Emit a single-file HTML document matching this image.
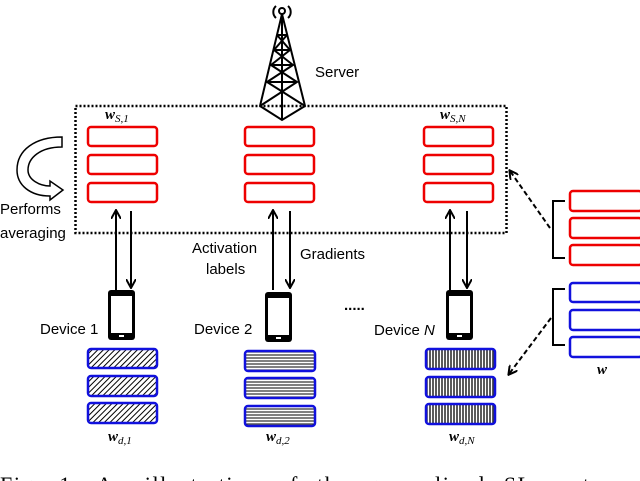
<!DOCTYPE html>
<html><head><style>body{margin:0;background:#fff}svg{display:block}</style></head><body>
<svg width="640" height="481" viewBox="0 0 640 481" xmlns="http://www.w3.org/2000/svg" font-family="Liberation Sans, sans-serif">
<defs>
<marker id="ah" markerWidth="10" markerHeight="10" refX="8" refY="5" orient="auto" markerUnits="userSpaceOnUse"><path d="M0,0 L9,5 L0,10" fill="none" stroke="#000" stroke-width="2"/></marker>
<pattern id="p1" width="4" height="4" patternUnits="userSpaceOnUse" patternTransform="rotate(45)"><rect width="4" height="4" fill="#fff"/><line x1="0" y1="0" x2="0" y2="4" stroke="#000" stroke-width="2"/></pattern>
<pattern id="p2" width="4" height="3" patternUnits="userSpaceOnUse"><rect width="4" height="3" fill="#fff"/><line x1="0" y1="1" x2="4" y2="1" stroke="#000" stroke-width="1"/></pattern>
<pattern id="p3" width="3" height="4" patternUnits="userSpaceOnUse"><rect width="3" height="4" fill="#fff"/><line x1="1" y1="0" x2="1" y2="4" stroke="#000" stroke-width="1.3"/></pattern>
</defs>
<g stroke="#000" stroke-width="2" fill="none">
<path d="M276,6 a8,8 0 0 0 0,12 M288,6 a8,8 0 0 1 0,12"/>
<circle cx="282" cy="11" r="3"/>
<path d="M282,14 L260,106 L282,120 L305,106 Z"/>
<path d="M282,14 L282,120"/>
<path d="M277,35 L287,35 M274,50 L290,50 M271,65 L293,65 M267,82 L297,82 M277,35 L290,50 L271,65 L297,82 L260,106 M287,35 L274,50 L293,65 L267,82 L305,106"/>
</g>
<text x="315" y="77" font-size="15">Server</text>
<rect x="75.5" y="106" width="431" height="127" fill="none" stroke="#000" stroke-width="2.5" stroke-dasharray="2,2"/>
<g fill="none" stroke="#e00" stroke-width="2.5">
<rect x="88" y="127" width="69" height="19" rx="3"/><rect x="88" y="155" width="69" height="19" rx="3"/><rect x="88" y="183" width="69" height="19" rx="3"/>
<rect x="245" y="127" width="69" height="19" rx="3"/><rect x="245" y="155" width="69" height="19" rx="3"/><rect x="245" y="183" width="69" height="19" rx="3"/>
<rect x="424" y="127" width="69" height="19" rx="3"/><rect x="424" y="155" width="69" height="19" rx="3"/><rect x="424" y="183" width="69" height="19" rx="3"/>
<rect x="570" y="191" width="72" height="20" rx="3"/><rect x="570" y="218" width="72" height="20" rx="3"/><rect x="570" y="245" width="72" height="20" rx="3"/>
</g>
<g font-family="Liberation Serif, serif" font-weight="bold" font-style="italic">
<text x="105" y="119" font-size="15">w<tspan font-size="11" font-weight="normal" dy="3">S,1</tspan></text>
<text x="440" y="119" font-size="15">w<tspan font-size="11" font-weight="normal" dy="3">S,N</tspan></text>
<text x="108" y="441" font-size="15">w<tspan font-size="11" font-weight="normal" dy="3">d,1</tspan></text>
<text x="266" y="441" font-size="15">w<tspan font-size="11" font-weight="normal" dy="3">d,2</tspan></text>
<text x="449" y="441" font-size="15">w<tspan font-size="11" font-weight="normal" dy="3">d,N</tspan></text>
<text x="597" y="374" font-size="15">w</text>
</g>
<path d="M62,137 L62,147 C40,147 28,158 28,170 C28,180 40,186 50,186 L50,181 L63,190 L50,200 L50,196 C30,196 17,185 17,170 C17,150 35,137 62,137 Z" fill="#fff" stroke="#000" stroke-width="1.5"/>
<text x="0" y="214" font-size="15">Performs</text>
<text x="0" y="238" font-size="15">averaging</text>
<g stroke="#000" stroke-width="2" marker-end="url(#ah)">
<line x1="116" y1="290" x2="116" y2="211"/><line x1="131" y1="211" x2="131" y2="287"/>
<line x1="273" y1="290" x2="273" y2="211"/><line x1="290" y1="211" x2="290" y2="287"/>
<line x1="450" y1="290" x2="450" y2="211"/><line x1="467" y1="211" x2="467" y2="287"/>
</g>
<text x="192" y="253" font-size="15">Activation</text>
<text x="206" y="274" font-size="15">labels</text>
<text x="300" y="259" font-size="15">Gradients</text>
<g>
<rect x="108" y="290" width="27" height="50" rx="3" fill="#000"/><rect x="111" y="296" width="21" height="37" fill="#fff"/><rect x="119" y="335" width="5" height="2" fill="#fff"/>
<rect x="265" y="292" width="27" height="50" rx="3" fill="#000"/><rect x="268" y="298" width="21" height="37" fill="#fff"/><rect x="276" y="337" width="5" height="2" fill="#fff"/>
<rect x="446" y="290" width="27" height="50" rx="3" fill="#000"/><rect x="449" y="296" width="21" height="37" fill="#fff"/><rect x="457" y="335" width="5" height="2" fill="#fff"/>
</g>
<text x="40" y="334" font-size="15">Device 1</text>
<text x="194" y="334" font-size="15">Device 2</text>
<text x="374" y="335" font-size="15">Device <tspan font-style="italic">N</tspan></text>
<text x="344" y="310" font-size="15" font-weight="bold">.....</text>
<g stroke="#11d" stroke-width="2.5">
<rect x="88" y="349" width="69" height="19" rx="3" fill="url(#p1)"/><rect x="88" y="376" width="69" height="20" rx="3" fill="url(#p1)"/><rect x="88" y="403" width="69" height="20" rx="3" fill="url(#p1)"/>
<rect x="245" y="351" width="70" height="20" rx="3" fill="url(#p2)"/><rect x="245" y="378" width="70" height="20" rx="3" fill="url(#p2)"/><rect x="245" y="406" width="70" height="20" rx="3" fill="url(#p2)"/>
<rect x="426" y="349" width="69" height="20" rx="3" fill="url(#p3)"/><rect x="426" y="377" width="69" height="20" rx="3" fill="url(#p3)"/><rect x="426" y="404" width="69" height="20" rx="3" fill="url(#p3)"/>
<rect x="570" y="283" width="72" height="19" rx="3" fill="none"/><rect x="570" y="310" width="72" height="20" rx="3" fill="none"/><rect x="570" y="337" width="72" height="20" rx="3" fill="none"/>
</g>
<g fill="none" stroke="#000" stroke-width="2">
<path d="M565,201 L553,201 L553,258 L565,258"/>
<path d="M565,289 L553,289 L553,345 L565,345"/>
</g>
<g stroke="#000" stroke-width="2" stroke-dasharray="5,3" marker-end="url(#ah)">
<line x1="550" y1="228" x2="510" y2="171"/>
<line x1="551" y1="318" x2="509" y2="374"/>
</g>
<text x="0" y="492" font-size="22" font-family="Liberation Serif, serif" letter-spacing="1.6" word-spacing="11">Fig. 1: An illustration of the generalized SL system</text>
</svg>
</body></html>
